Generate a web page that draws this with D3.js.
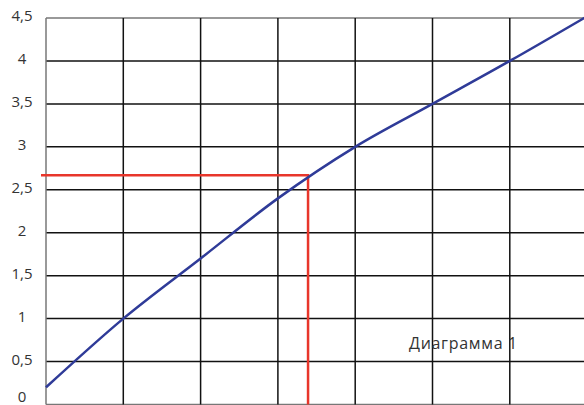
<!DOCTYPE html>
<html>
<head>
<meta charset="utf-8">
<script src="https://cdn.jsdelivr.net/npm/d3@7"></script>
<style>
  html, body { margin: 0; padding: 0; background: #fff; overflow: hidden; }
  svg { display: block; }
</style>
</head>
<body>
<div id="chart"></div>
<script>
// данные графика
const xValues = [0, 1, 2, 3, 4, 5, 6, 7];
const yValues = [0.2, 1.0, 1.7, 2.4, 3.0, 3.5, 4.0, 4.52];
const yTicks = [0, 0.5, 1, 1.5, 2, 2.5, 3, 3.5, 4, 4.5];
const xGrid = [0, 1, 2, 3, 4, 5, 6, 7];
const marker = { x: 3.39, y: 2.67 };
const title = "Диаграмма 1";

const colors = { grid: "#111", border: "#777", curve: "#2f3b98", marker: "#e8362b", text: "#333" };

const W = 584, H = 405;
const margin = { left: 46, top: 18 };
const plotW = 7 * 77.3, plotBottom = 404.5;

const svg = d3.select("#chart").append("svg")
    .attr("width", W)
    .attr("height", H);

const x = d3.scaleLinear().domain([0, 7]).range([margin.left, margin.left + plotW]);
const y = d3.scaleLinear().domain([0, 4.5]).range([plotBottom, margin.top]);

// горизонтальная сетка
svg.append("g").selectAll("line")
    .data(yTicks)
    .enter().append("line")
    .attr("x1", x(0)).attr("x2", x(7))
    .attr("y1", d => y(d)).attr("y2", d => y(d))
    .attr("stroke", (d, i) => (i === 0 || i === yTicks.length - 1) ? colors.border : colors.grid)
    .attr("stroke-width", 1.5);

// вертикальная сетка
svg.append("g").selectAll("line")
    .data(xGrid)
    .enter().append("line")
    .attr("x1", d => x(d)).attr("x2", d => x(d))
    .attr("y1", y(4.5)).attr("y2", y(0))
    .attr("stroke", (d, i) => i === 0 ? colors.border : colors.grid)
    .attr("stroke-width", 1.5);

// подписи оси Y (нижняя чуть приподнята, чтобы не обрезалась)
svg.append("g").selectAll("text")
    .data(yTicks)
    .enter().append("text")
    .attr("x", 22)
    .attr("y", d => Math.min(y(d) - 3, 396))
    .attr("text-anchor", "middle")
    .attr("dominant-baseline", "central")
    .attr("font-family", '"Open Sans", sans-serif')
    .attr("font-size", "15px")
    .attr("fill", colors.text)
    .text(d => String(d).replace(".", ","));

// красные линии отметки
svg.append("path")
    .attr("d", `M${x(0) - 5},${y(marker.y)}H${x(marker.x)}V${y(0)}`)
    .attr("fill", "none")
    .attr("stroke", colors.marker)
    .attr("stroke-width", 2.5);

// кривая
const line = d3.line()
    .x(d => x(d[0]))
    .y(d => y(d[1]))
    .curve(d3.curveMonotoneX);

svg.append("path")
    .datum(xValues.map((v, i) => [v, yValues[i]]))
    .attr("d", line)
    .attr("fill", "none")
    .attr("stroke", colors.curve)
    .attr("stroke-width", 2.5);

svg.append("text")
    .attr("x", 409)
    .attr("y", 349)
    .attr("font-family", '"Open Sans", sans-serif')
    .attr("font-size", "16px")
    .attr("letter-spacing", "0.7px")
    .attr("fill", colors.text)
    .text(title);
</script>
</body>
</html>
